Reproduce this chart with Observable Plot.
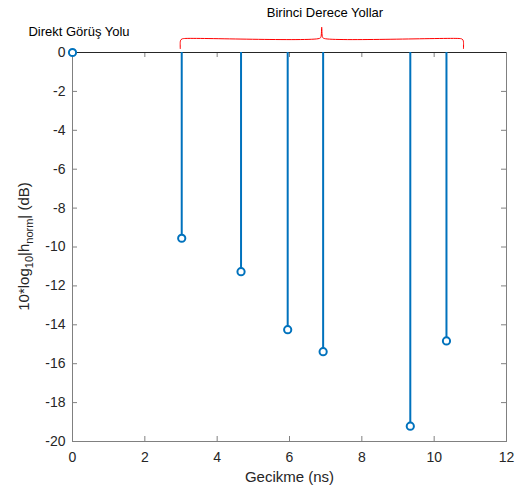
<!DOCTYPE html>
<html>
<head>
<meta charset="utf-8">
<script src="https://cdn.jsdelivr.net/npm/d3@7"></script>
<script src="https://cdn.jsdelivr.net/npm/@observablehq/plot@0.6"></script>
<style>
  html, body { margin: 0; padding: 0; background: #fff; }
  #chart svg { display: block; }
</style>
</head>
<body>
<div id="chart"></div>
<script>
// ---- data ----
const delays = [0, 3.02, 4.66, 5.95, 6.93, 9.34, 10.34];          // ns
const gainsDb = [0, -9.55, -11.27, -14.25, -15.38, -19.21, -14.83]; // dB
const xTicks = [0, 2, 4, 6, 8, 10, 12];
const yTicks = [0, -2, -4, -6, -8, -10, -12, -14, -16, -18, -20];
const annotationLabels = ["Direkt Görüş Yolu", "Birinci Derece Yollar"];
const annotationX = [0.18, 6.98];
const annotationY = [1.04, 2.06];
// brace outline (data coordinates)
const braceX = [2.98, 2.98, 2.995, 3.03, 3.1, 6.82, 6.865, 6.89, 6.915, 6.96, 10.69, 10.76, 10.795, 10.81, 10.81];
const braceY = [0.2, 0.55, 0.65, 0.7, 0.72, 0.72, 0.78, 1.3, 0.78, 0.72, 0.72, 0.7, 0.65, 0.55, 0.2];
const xLabel = "Gecikme (ns)";

const stems = delays.map((d, i) => ({x: d, y: gainsDb[i]}));
const brace = braceX.map((x, i) => ({x, y: braceY[i]}));
const notes = annotationLabels.map((t, i) => ({t, x: annotationX[i], y: annotationY[i]}));

const W = 520, H = 488;
const mL = 72, mR = 14, mT = 52, mB = 47;
const pw = W - mL - mR, ph = H - mT - mB;
const axisCol = "#808080", textCol = "#262626", blue = "#0072BD";
const font = "'Liberation Sans', Arial, Helvetica, sans-serif";

const chart = Plot.plot({
  width: W, height: H,
  marginLeft: mL, marginRight: mR, marginTop: mT, marginBottom: mB,
  style: {fontFamily: font, color: textCol, background: "#fff"},
  x: {domain: [0, 12], ticks: xTicks},
  y: {domain: [-20, 0], ticks: yTicks},
  marks: [
    Plot.frame({stroke: axisCol, strokeWidth: 1}),
    // inward ticks
    Plot.tickX(xTicks, {x: d => d, insetTop: ph - 5, stroke: axisCol}),
    Plot.tickX(xTicks, {x: d => d, insetBottom: ph - 5, stroke: axisCol}),
    Plot.tickY(yTicks, {y: d => d, insetRight: pw - 5, stroke: axisCol}),
    Plot.tickY(yTicks, {y: d => d, insetLeft: pw - 5, stroke: axisCol}),
    Plot.axisX({ticks: xTicks, tickSize: 0, tickPadding: 11, fontSize: 14, tickFormat: d => String(d), label: null, fill: textCol}),
    Plot.axisY({ticks: yTicks, tickSize: 0, tickPadding: 7, fontSize: 14, tickFormat: d => String(d), label: null, fill: textCol}),
    // baseline
    Plot.ruleY([0], {stroke: "#262626", strokeWidth: 1.2}),
    // stems
    Plot.ruleX(stems, {x: "x", y1: 0, y2: "y", stroke: blue, strokeWidth: 2}),
    Plot.dot(stems, {x: "x", y: "y", r: 3.6, stroke: blue, strokeWidth: 2, fill: "#fff"}),
    // brace
    Plot.line(brace, {x: "x", y: "y", stroke: "#ff0000", strokeWidth: 1, curve: "catmull-rom"}),
    Plot.text(notes, {x: "x", y: "y", text: "t", fontSize: 13, fill: "#000", textAnchor: "middle", lineAnchor: "middle"}),
    Plot.text([xLabel], {frameAnchor: "bottom", dy: 36, text: d => d, fontSize: 15, fill: textCol, lineAnchor: "middle"})
  ]
});
document.getElementById("chart").appendChild(chart);

// y-axis label with subscripts
const svg = d3.select(chart);
const yl = svg.append("text")
  .attr("transform", `translate(28.5,${mT + ph / 2}) rotate(-90)`)
  .attr("text-anchor", "middle")
  .attr("font-family", font)
  .attr("font-size", 15)
  .attr("fill", textCol);
yl.append("tspan").text("10*log");
yl.append("tspan").attr("dy", 4).attr("font-size", 11).text("10");
yl.append("tspan").attr("dy", -4).text("|h");
yl.append("tspan").attr("dy", 4).attr("font-size", 11).text("norm");
yl.append("tspan").attr("dy", -4).text("| (dB)");
</script>
</body>
</html>
